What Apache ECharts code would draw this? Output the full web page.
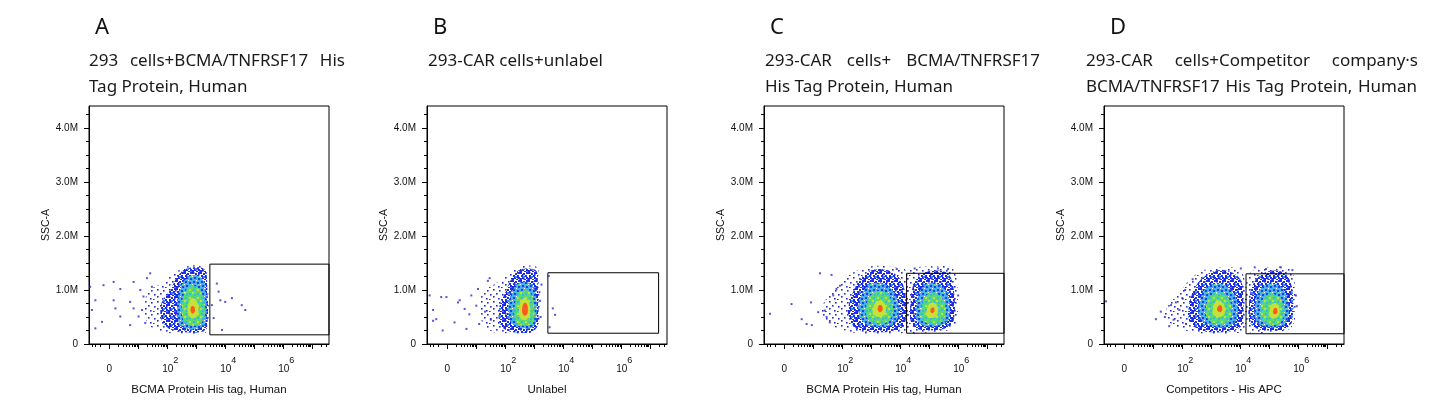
<!DOCTYPE html>
<html>
<head>
<meta charset="utf-8">
<script src="https://cdn.jsdelivr.net/npm/echarts@6/dist/echarts.min.js"></script>
<style>
  html, body { margin: 0; padding: 0; background: #fff; }
  #chart { width: 1445px; height: 414px; }
</style>
</head>
<body>
<div id="chart"></div>
<script>
// ---- texts ----
const panelLetters = ['A', 'B', 'C', 'D'];
const titleLine1 = ['293 cells+BCMA/TNFRSF17 His', '293-CAR cells+unlabel', '293-CAR cells+ BCMA/TNFRSF17', '293-CAR cells+Competitor company\u00b7s'];
const titleLine2 = ['Tag Protein, Human', '', 'His Tag Protein, Human', 'BCMA/TNFRSF17 His Tag Protein, Human'];
const xAxisNames = ['BCMA Protein His tag, Human', 'Unlabel', 'BCMA Protein His tag, Human', 'Competitors - His APC'];

// ---- axes (x in decades of the biexponential scale, y in millions) ----
const xMin = -0.7, xMax = 7.58;
const yMax = 4.41;
const xLabelValues = [0, 2, 4, 6];
const xMajorTicks = [0, 1, 2, 3, 4, 5, 6, 7];
const xMinorTicks = [-0.6, -0.48, -0.3,
  0.3, 0.48, 0.6, 0.7, 0.78, 0.85, 0.9, 0.95,
  1.3, 1.48, 1.6, 1.7, 1.78, 1.85, 1.9, 1.95,
  2.3, 2.48, 2.6, 2.7, 2.78, 2.85, 2.9, 2.95,
  3.3, 3.48, 3.6, 3.7, 3.78, 3.85, 3.9, 3.95,
  4.3, 4.48, 4.6, 4.7, 4.78, 4.85, 4.9, 4.95,
  5.3, 5.48, 5.6, 5.7, 5.78, 5.85, 5.9, 5.95,
  6.3, 6.48, 6.6, 6.7, 6.78, 6.85, 6.9, 6.95, 7.3, 7.48];
const yMajorTicks = [0, 1, 2, 3, 4];
const yMinorTicks = [0.25, 0.5, 0.75, 1.25, 1.5, 1.75, 2.25, 2.5, 2.75, 3.25, 3.5, 3.75, 4.25];

// ---- gates [x0, y0, x1, y1] ----
const gates = [[3.47, 0.17, 7.58, 1.48], [3.47, 0.2, 7.29, 1.32], [4.22, 0.2, 7.58, 1.31], [4.2, 0.19, 7.58, 1.30]];

// ---- density contours, level 1 (sparse) .. 6 (peak) ----
const densityA = [
  [[[1.3,0.95],[1.7,1.1],[2.1,1.25],[2.5,1.4],[2.9,1.46],[3.3,1.44],[3.38,1.3],[3.38,0.25],[3.0,0.18],[2.4,0.2],[1.9,0.22],[1.3,0.4]]],
  [[[1.8,0.75],[2.1,1.0],[2.35,1.25],[2.6,1.38],[2.95,1.42],[3.3,1.38],[3.37,1.2],[3.37,0.3],[3.1,0.22],[2.6,0.22],[2.1,0.27],[1.8,0.45]]],
  [[[2.35,0.8],[2.5,1.1],[2.75,1.25],[3.05,1.27],[3.3,1.1],[3.34,0.45],[3.15,0.3],[2.7,0.28],[2.4,0.4]]],
  [[[2.5,0.7],[2.6,0.95],[2.8,1.08],[3.05,1.05],[3.25,0.85],[3.28,0.5],[3.1,0.36],[2.75,0.35],[2.55,0.45]]],
  [[[2.7,0.62],[2.77,0.8],[2.92,0.85],[3.05,0.76],[3.07,0.56],[2.94,0.48],[2.77,0.5]]],
  [[[2.8,0.62],[2.84,0.7],[2.93,0.69],[2.95,0.6],[2.87,0.56]]]
];
const densityB = [
  [[[1.2,0.95],[1.6,1.1],[2.0,1.25],[2.3,1.4],[2.7,1.45],[3.1,1.42],[3.15,1.2],[3.15,0.3],[2.8,0.2],[2.2,0.2],[1.6,0.22],[1.2,0.4]]],
  [[[1.8,0.7],[2.0,0.95],[2.2,1.2],[2.45,1.36],[2.8,1.4],[3.08,1.35],[3.12,1.1],[3.12,0.35],[2.9,0.22],[2.45,0.21],[2.05,0.25],[1.8,0.4]]],
  [[[2.1,0.7],[2.25,0.98],[2.45,1.12],[2.75,1.15],[3.02,1.0],[3.07,0.45],[2.9,0.3],[2.5,0.3],[2.2,0.4]]],
  [[[2.3,0.6],[2.38,0.85],[2.55,0.98],[2.8,0.98],[2.98,0.8],[3.0,0.45],[2.85,0.35],[2.5,0.35],[2.32,0.45]]],
  [[[2.47,0.6],[2.53,0.78],[2.68,0.85],[2.83,0.76],[2.86,0.54],[2.72,0.45],[2.53,0.47]]],
  [[[2.58,0.6],[2.62,0.74],[2.72,0.76],[2.78,0.66],[2.74,0.54],[2.64,0.53]]]
];
const densityC = [
  [[[1.4,0.8],[1.9,1.1],[2.3,1.3],[2.8,1.42],[3.3,1.45],[3.8,1.42],[4.2,1.35],[4.25,0.25],[3.8,0.2],[3.0,0.19],[2.3,0.22],[1.6,0.35],[1.3,0.55]],
   [[4.25,1.3],[4.6,1.42],[5.2,1.44],[5.75,1.42],[5.95,1.2],[5.95,0.4],[5.7,0.26],[5.0,0.22],[4.3,0.22]]],
  [[[2.2,0.65],[2.4,1.0],[2.7,1.25],[3.1,1.38],[3.6,1.36],[4.0,1.2],[4.18,0.9],[4.15,0.35],[3.8,0.24],[3.1,0.22],[2.5,0.28],[2.25,0.45]],
   [[4.35,0.7],[4.45,1.1],[4.75,1.3],[5.2,1.36],[5.65,1.3],[5.85,1.0],[5.85,0.45],[5.6,0.3],[5.0,0.25],[4.5,0.3],[4.35,0.45]]],
  [[[2.55,0.65],[2.7,0.95],[3.0,1.12],[3.5,1.1],[3.85,0.9],[3.95,0.55],[3.7,0.35],[3.1,0.32],[2.7,0.42]],
   [[4.55,0.6],[4.65,0.95],[4.95,1.12],[5.35,1.1],[5.65,0.9],[5.7,0.5],[5.45,0.35],[4.9,0.33],[4.6,0.42]]],
  [[[2.8,0.62],[2.95,0.88],[3.25,0.98],[3.6,0.9],[3.75,0.65],[3.6,0.42],[3.2,0.38],[2.9,0.45]],
   [[4.7,0.58],[4.82,0.85],[5.1,0.95],[5.45,0.85],[5.58,0.58],[5.4,0.4],[5.0,0.38],[4.75,0.45]]],
  [[[3.05,0.62],[3.14,0.77],[3.35,0.8],[3.5,0.7],[3.46,0.54],[3.25,0.5],[3.08,0.54]],
   [[4.9,0.58],[4.98,0.73],[5.15,0.77],[5.3,0.68],[5.26,0.52],[5.06,0.48],[4.92,0.52]]],
  [[[3.22,0.64],[3.27,0.72],[3.37,0.71],[3.39,0.63],[3.3,0.59]],
   [[5.04,0.6],[5.08,0.67],[5.16,0.67],[5.18,0.6],[5.1,0.57]]]
];
const densityD = [
  [[[1.5,0.7],[1.9,0.95],[2.3,1.22],[2.8,1.38],[3.4,1.42],[3.9,1.4],[4.15,1.2],[4.18,0.25],[3.8,0.2],[3.0,0.19],[2.3,0.22],[1.7,0.35],[1.4,0.5]],
   [[4.22,1.2],[4.5,1.38],[5.0,1.42],[5.6,1.42],[5.85,1.25],[5.9,0.5],[5.7,0.28],[5.0,0.22],[4.3,0.24]]],
  [[[2.2,0.6],[2.35,0.95],[2.65,1.2],[3.1,1.35],[3.6,1.35],[4.0,1.2],[4.1,0.9],[4.05,0.35],[3.7,0.24],[3.0,0.22],[2.5,0.28],[2.25,0.42]],
   [[4.3,0.7],[4.4,1.05],[4.7,1.28],[5.2,1.36],[5.6,1.28],[5.8,1.0],[5.8,0.45],[5.55,0.28],[5.0,0.25],[4.5,0.3],[4.3,0.45]]],
  [[[2.55,0.62],[2.7,0.95],[3.0,1.1],[3.5,1.08],[3.85,0.85],[3.9,0.5],[3.65,0.33],[3.05,0.32],[2.7,0.42]],
   [[4.5,0.6],[4.6,0.95],[4.9,1.1],[5.35,1.08],[5.62,0.85],[5.65,0.48],[5.4,0.33],[4.9,0.32],[4.55,0.42]]],
  [[[2.8,0.62],[2.95,0.88],[3.25,0.95],[3.6,0.85],[3.7,0.6],[3.55,0.4],[3.15,0.37],[2.9,0.45]],
   [[4.7,0.58],[4.8,0.85],[5.1,0.93],[5.42,0.82],[5.52,0.55],[5.35,0.38],[5.0,0.36],[4.75,0.45]]],
  [[[3.05,0.62],[3.13,0.77],[3.3,0.8],[3.46,0.7],[3.44,0.54],[3.25,0.5],[3.08,0.54]],
   [[5.0,0.56],[5.06,0.72],[5.22,0.76],[5.36,0.66],[5.32,0.52],[5.15,0.47],[5.02,0.5]]],
  [[[3.2,0.63],[3.25,0.71],[3.35,0.71],[3.38,0.63],[3.3,0.59]],
   [[5.13,0.58],[5.17,0.66],[5.26,0.66],[5.28,0.58],[5.2,0.55]]]
];

// ---- single scattered events ----
const eventsA = [[-0.66,1.06],[-0.2,1.09],[0.15,1.15],[0.84,1.15],[1.41,1.31],[1.3,1.22],[-0.48,0.81],[-0.6,0.63],
  [-0.25,0.41],[-0.48,0.29],[0.15,0.81],[0.21,0.66],[0.72,0.78],[0.84,0.66],[0.38,0.51],[0.72,0.35],[1.07,1.0],
  [1.01,0.51],[1.18,0.88],[1.24,0.39],[1.47,1.06],[0.38,1.02],[1.13,0.63],
  [3.71,1.12],[3.77,0.97],[3.83,0.81],[4.0,0.78],[4.23,0.85],[4.57,0.72],[4.69,0.63],[3.89,0.26],[3.6,0.48],[3.54,0.72]];
const eventsB = [[-0.61,0.9],[-0.49,0.63],[-0.21,0.87],[-0.03,0.87],[-0.38,0.46],[-0.16,0.25],[-0.49,0.43],[0.37,0.77],
  [0.43,0.81],[0.25,0.4],[0.83,0.9],[1.06,1.02],[1.4,1.17],[1.46,1.22],[1.0,0.71],[0.66,0.28],[1.1,0.37],[0.76,0.55],
  [1.3,0.6],[1.5,0.45],[0.6,0.65],
  [3.5,1.26],[3.64,0.66],[3.72,0.54],[3.53,0.31],[3.18,0.96],[3.2,0.8],[3.25,1.1],[3.22,0.5]];
const eventsC = [[-0.49,0.56],[0.25,0.74],[0.92,0.77],[1.23,1.31],[1.63,1.28],[0.6,0.46],[0.77,0.37],[0.95,0.35],
  [1.17,0.59],[1.4,0.62],[1.46,0.5],[1.69,0.9],[1.8,1.02],[1.92,1.08],[1.57,0.4],
  [5.77,0.59],[5.83,0.77],[5.65,1.39],[5.3,1.4],[4.5,1.4],[3.88,1.39],[6.0,0.9]];
const eventsD = [[-0.63,0.79],[1.09,0.46],[1.26,0.6],[1.55,0.33],[1.61,0.72],[1.78,0.77],[1.9,0.63],[4.02,1.4],
  [4.89,1.39],[5.8,1.37],[2.13,0.37],[2.36,1.2],[1.4,0.5],[1.7,0.45],[2.0,0.85],[2.1,1.0],[5.95,0.7],[5.92,0.9],
  [4.5,1.42],[5.4,1.42]];

const densities = [densityA, densityB, densityC, densityD];
const events = [eventsA, eventsB, eventsC, eventsD];

// ---- layout ----
const gridLefts = [89, 427, 764, 1104];
const gridTop = 106, gridW = 240, gridH = 238;
const titleX = [89, 428, 765, 1086];
const titleRight = [345, null, 1040, 1418];
const AXIS_FONT = '"Liberation Sans", Arial, sans-serif';
const TITLE_FONT = '17px "Noto Sans", "Noto Sans CJK SC", sans-serif';

// speckle tiles: each density level is a mix of coloured events
function makeTile(size, bg, dotSets) {
  const c = document.createElement('canvas');
  c.width = c.height = size;
  const g = c.getContext('2d');
  if (bg) { g.fillStyle = bg; g.fillRect(0, 0, size, size); }
  dotSets.forEach(function (set) {
    g.fillStyle = set.color;
    set.dots.forEach(function (d) { g.fillRect(d[0], d[1], set.size, set.size); });
  });
  return c;
}
const sparseTile = makeTile(12, null, [
  { color: '#2b2bc6', size: 1.6, dots: [[1,1],[7,2],[4,5],[10,6],[1,8],[6,10],[9,11]] }
]);
const denseTile = makeTile(8, null, [
  { color: '#1f2ce0', size: 2, dots: [[0,0],[3,1],[6,0],[1,3],[5,3],[2,5],[6,5],[0,6],[4,7]] },
  { color: '#2e8cf0', size: 2, dots: [[7,7],[3,4]] }
]);
const midTile = makeTile(8, '#44b2f0', [
  { color: '#2040e0', size: 2, dots: [[1,1],[5,2],[2,5],[6,6]] },
  { color: '#ffffff', size: 1, dots: [[4,0],[0,4]] },
  { color: '#50d890', size: 2, dots: [[6,4]] }
]);
const greenTile = makeTile(8, '#5ad872', [
  { color: '#38b8e8', size: 2, dots: [[1,1],[5,5],[2,6]] },
  { color: '#b8e440', size: 2, dots: [[5,1],[0,4]] }
]);
const levelFill = [
  { image: sparseTile, repeat: 'repeat' },
  { image: denseTile, repeat: 'repeat' },
  { image: midTile, repeat: 'repeat' },
  { image: greenTile, repeat: 'repeat' },
  '#c4e23a',
  '#ff5a1a'
];

const measure = document.createElement('canvas').getContext('2d');
function titleTexts(text, x0, x1, y) {
  if (!text) return [];
  if (x1 == null) {
    return [{ type: 'text', x: x0, y: y, style: { text: text, font: TITLE_FONT, fill: '#1a1a1a', verticalAlign: 'middle' } }];
  }
  measure.font = TITLE_FONT;
  const words = text.split(' ');
  const widths = words.map(function (w) { return measure.measureText(w).width; });
  const total = widths.reduce(function (a, b) { return a + b; }, 0);
  const gap = (x1 - x0 - total) / (words.length - 1);
  const out = [];
  let x = x0;
  words.forEach(function (w, k) {
    out.push({ type: 'text', x: x, y: y, style: { text: w, font: TITLE_FONT, fill: '#1a1a1a', verticalAlign: 'middle' } });
    x += widths[k] + gap;
  });
  return out;
}

const grids = [], xAxes = [], yAxes = [], series = [], graphics = [];
for (let i = 0; i < 4; i++) {
  grids.push({ left: gridLefts[i], top: gridTop, width: gridW, height: gridH, show: true, borderColor: '#000', borderWidth: 1, backgroundColor: 'transparent' });

  xAxes.push({
    gridIndex: i, type: 'value', min: xMin, max: xMax, position: 'bottom',
    name: xAxisNames[i], nameLocation: 'middle', nameGap: 40,
    nameTextStyle: { fontSize: 11.5, color: '#111', fontFamily: AXIS_FONT },
    axisLine: { show: true, onZero: false, lineStyle: { color: '#000', width: 1 } },
    axisTick: { show: true, customValues: xMajorTicks, length: 5, lineStyle: { color: '#000' } },
    axisLabel: {
      customValues: xLabelValues, margin: 12,
      formatter: function (v) { return v === 0 ? '{z|0}' : '{b|10}{s|' + v + '}'; },
      rich: {
        z: { fontSize: 10, fontFamily: AXIS_FONT, color: '#111', padding: [8, 0, 0, 0] },
        b: { fontSize: 10, fontFamily: AXIS_FONT, color: '#111', padding: [8, 0, 0, 6] },
        s: { fontSize: 9, fontFamily: AXIS_FONT, color: '#111', padding: [0, 0, 9, 0] }
      }
    },
    splitLine: { show: false }
  });
  xAxes.push({
    gridIndex: i, type: 'value', min: xMin, max: xMax, position: 'bottom',
    axisLine: { show: false, onZero: false },
    axisTick: { show: true, customValues: xMinorTicks, length: 3, lineStyle: { color: '#000' } },
    axisLabel: { show: false }, splitLine: { show: false }
  });

  yAxes.push({
    gridIndex: i, type: 'value', min: 0, max: yMax, position: 'left',
    name: 'SSC-A', nameLocation: 'middle', nameGap: 36, nameRotate: 90,
    nameTextStyle: { fontSize: 10.5, color: '#111', fontFamily: AXIS_FONT },
    axisLine: { show: true, onZero: false, lineStyle: { color: '#000', width: 1 } },
    axisTick: { show: true, customValues: yMajorTicks, length: 5, lineStyle: { color: '#000' } },
    axisLabel: {
      customValues: yMajorTicks, margin: 11, fontSize: 10, fontFamily: AXIS_FONT, color: '#111',
      formatter: function (v) { return v === 0 ? '0' : v.toFixed(1) + 'M'; }
    },
    splitLine: { show: false }
  });
  yAxes.push({
    gridIndex: i, type: 'value', min: 0, max: yMax, position: 'left',
    axisLine: { show: false, onZero: false },
    axisTick: { show: true, customValues: yMinorTicks, length: 3, lineStyle: { color: '#000' } },
    axisLabel: { show: false }, splitLine: { show: false }
  });

  // density layers
  const polys = [];
  densities[i].forEach(function (levelPolys, lv) {
    levelPolys.forEach(function (p) { polys.push({ level: lv, pts: p }); });
  });
  series.push({
    type: 'custom', xAxisIndex: i * 2, yAxisIndex: i * 2, silent: true, clip: true,
    data: polys.map(function (p, k) { return [p.pts[0][0], p.pts[0][1], k]; }),
    renderItem: function (params, api) {
      const p = polys[api.value(2)];
      return {
        type: 'polygon',
        shape: { points: p.pts.map(function (pt) { return api.coord(pt); }), smooth: 0.35 },
        style: { fill: levelFill[p.level] }
      };
    }
  });

  // scattered events
  series.push({
    type: 'scatter', xAxisIndex: i * 2, yAxisIndex: i * 2, silent: true,
    symbol: 'rect', symbolSize: 2, data: events[i],
    itemStyle: { color: '#2a2ac8' }
  });

  // gate
  series.push({
    type: 'custom', xAxisIndex: i * 2, yAxisIndex: i * 2, silent: true,
    data: [gates[i]],
    renderItem: function (params, api) {
      const a = api.coord([api.value(0), api.value(1)]);
      const b = api.coord([api.value(2), api.value(3)]);
      return {
        type: 'rect',
        shape: { x: a[0], y: b[1], width: b[0] - a[0], height: a[1] - b[1] },
        style: { fill: 'none', stroke: '#000', lineWidth: 1 }
      };
    }
  });

  // titles
  graphics.push({ type: 'text', x: gridLefts[i] + 6, y: 28, style: { text: panelLetters[i], font: '22px "Noto Sans", sans-serif', fill: '#111', verticalAlign: 'middle' } });
  titleTexts(titleLine1[i], titleX[i], titleRight[i], 61).forEach(function (t) { graphics.push(t); });
  const right2 = i === 3 ? 1417 : null;
  titleTexts(titleLine2[i], titleX[i], right2, 87).forEach(function (t) { graphics.push(t); });
}

const chart = echarts.init(document.getElementById('chart'));
chart.setOption({
  animation: false,
  backgroundColor: '#fff',
  grid: grids,
  xAxis: xAxes,
  yAxis: yAxes,
  series: series,
  graphic: graphics
});
</script>
</body>
</html>
